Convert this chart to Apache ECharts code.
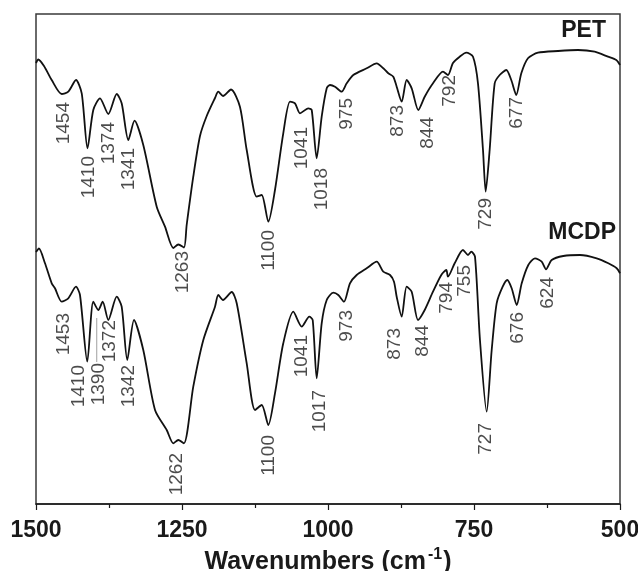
<!DOCTYPE html>
<html>
<head>
<meta charset="utf-8">
<script src="https://cdn.jsdelivr.net/npm/echarts@6/dist/echarts.min.js"></script>
<style>
  html, body { margin: 0; padding: 0; background: #fff; }
  #main { width: 638px; height: 571px; }
</style>
</head>
<body>
<div id="main"></div>
<script>
// wavenumber (cm-1) and transmittance (arbitrary units, curves offset)
var petWn = [1500, 1496.1, 1486.3, 1473.1, 1456.0, 1444.7, 1431.5, 1421.7, 1411.8, 1401.9, 1390.4, 1376.2, 1361.8, 1353.3, 1341.9, 1331.3, 1316.3, 1293.3, 1279.1, 1264.9, 1256.3, 1246.6, 1242.0, 1230.7, 1219.2, 1207.7, 1193.5, 1187.9, 1179.8, 1166.1, 1150.8, 1139.2, 1122.1, 1113.5, 1102.2, 1090.8, 1076.6, 1065.1, 1056.5, 1048.0, 1033.8, 1027.9, 1019.4, 1010.8, 1002.2, 996.6, 988.0, 976.6, 968.0, 956.7, 933.8, 916.6, 905.3, 896.8, 888.2, 882.4, 873.8, 865.3, 856.7, 845.4, 834.4, 820.2, 803.1, 794.6, 786.0, 774.5, 763.2, 751.7, 743.2, 734.6, 730.0, 723.2, 714.6, 706.0, 694.7, 686.2, 677.6, 669.0, 657.6, 640.4, 606.2, 572.0, 543.4, 520.6, 506.4, 500];
var petT = [441, 444.5, 438, 424, 410, 412.3, 424, 410.7, 355.7, 394, 405.7, 390, 410, 400.7, 364, 383.3, 359, 297.3, 277.3, 256, 259.5, 256.5, 279, 327.3, 368, 388, 406, 412.3, 408, 414.5, 397.3, 354, 307.3, 309, 282.3, 314, 370.7, 402.3, 400.7, 390.7, 395.7, 394, 345.7, 387.3, 415.7, 419, 417.3, 412.3, 420.7, 429, 435.7, 440.7, 435.7, 430.7, 427.3, 417.3, 402.3, 424, 415.7, 394, 407.3, 420.7, 432.3, 429, 441, 447.3, 451.3, 447.3, 420.7, 354, 312.3, 354, 420.7, 429, 434, 424, 409, 430.7, 445.7, 451.3, 453, 454, 452.3, 447.3, 444, 439];

var mcdpWn = [1500, 1494.9, 1484.6, 1473.1, 1467.5, 1456.0, 1444.7, 1431.5, 1424.7, 1412.2, 1401.9, 1393.3, 1385.8, 1376.2, 1361.8, 1353.3, 1343.7, 1332.2, 1316.3, 1296.2, 1276.2, 1264.9, 1256.3, 1246.6, 1230.7, 1213.5, 1193.5, 1187.9, 1179.8, 1164.9, 1156.3, 1139.2, 1125.0, 1113.5, 1102.2, 1090.8, 1076.6, 1059.4, 1045.0, 1032.0, 1026.2, 1019.4, 1010.8, 1002.2, 990.9, 982.4, 972.6, 962.4, 950.9, 933.8, 916.6, 905.3, 893.8, 887.0, 882.4, 873.8, 865.3, 856.7, 845.9, 834.4, 820.2, 806.0, 797.4, 794.6, 783.1, 768.9, 760.3, 754.7, 748.3, 739.8, 728.3, 719.7, 711.2, 700.9, 693.0, 685.5, 676.9, 668.3, 657.0, 645.6, 634.1, 626.7, 617.0, 597.1, 568.5, 539.9, 520.0, 505.7, 500];
var mcdpT = [252, 255.5, 240.7, 220.7, 215.7, 202.3, 205.7, 217.3, 209, 142.3, 202.3, 194, 202.3, 184, 207.3, 197.3, 144, 184, 154, 94, 74, 60.7, 64, 60.7, 117.3, 164, 197.3, 209, 204, 212, 200.7, 140.7, 94, 99, 79, 110.7, 160.7, 192.3, 177.3, 187.3, 184, 125.7, 180.7, 204, 211.3, 209, 202.3, 220.7, 229, 235.7, 242.3, 232.3, 229, 222.3, 207.3, 187.3, 217.3, 212.3, 184, 194, 212.3, 229, 234, 227.3, 240.7, 254, 249, 252.3, 247.3, 164, 92.3, 154, 200.7, 217.3, 224, 215.7, 199, 220.7, 239, 245.7, 242.3, 234.7, 244, 248, 249, 245.7, 240.7, 235.7, 230.7];

// peak annotations: text, anchor wavenumber, anchor height (top end of label)
var petPeakText = ['1454', '1410', '1374', '1341', '1263', '1100', '1041', '1018', '975', '873', '844', '792', '729', '677'];
var petPeakWn = [1453, 1410.5, 1376, 1342, 1248, 1102, 1045, 1011, 968, 880, 829, 792, 729, 676];
var petPeakT = [402, 348, 382, 356, 253, 274, 377, 336, 406, 399, 387, 429, 306, 407];

var mcdpPeakText = ['1453', '1410', '1390', '1372', '1342', '1262', '1100', '1041', '1017', '973', '873', '844', '794', '755', '727', '676', '624'];
var mcdpPeakWn = [1453, 1427, 1393, 1373, 1342, 1259, 1102, 1045, 1014, 968, 885, 837, 797, 766, 729, 675, 623];
var mcdpPeakT = [191, 139, 141, 184, 139, 51, 69, 169, 114, 194, 176, 179, 222, 239, 81, 192, 227];

// leader from the 1390 shoulder to its label
var leaderWn = [1396, 1396];
var leaderT = [186, 142];

var xTicks = [1500, 1250, 1000, 750, 500];

function pairs(xs, ys) {
  var out = [];
  for (var i = 0; i < xs.length; i++) out.push([xs[i], ys[i]]);
  return out;
}
function peaks(texts, xs, ys) {
  var out = [];
  for (var i = 0; i < texts.length; i++) out.push({ name: texts[i], value: [xs[i], ys[i]] });
  return out;
}

var font = '"Liberation Sans", Arial, sans-serif';
var peakLabel = {
  show: true,
  formatter: '{b}',
  position: 'inside',
  rotate: 90,
  align: 'right',
  verticalAlign: 'middle',
  fontSize: 19,
  fontFamily: font,
  color: '#1e1e1e'
};

var myChart = echarts.init(document.getElementById('main'));
myChart.setOption({
  animation: false,
  backgroundColor: '#fff',
  grid: {
    left: 36, right: 18, top: 14, bottom: 67,
    outerBoundsMode: 'none',
    containLabel: false,
    show: true, borderColor: '#3a3a3a', borderWidth: 1.5
  },
  xAxis: {
    type: 'value',
    min: 500, max: 1500, interval: 250,
    inverse: true,
    name: '{a|Wavenumbers (cm}{s|-1}{a|)}',
    nameLocation: 'middle',
    nameGap: 37,
    nameTextStyle: {
      rich: {
        a: { fontSize: 25, fontWeight: 'bold', fontFamily: font, color: '#1a1a1a', lineHeight: 30 },
        s: { fontSize: 16, fontWeight: 'bold', fontFamily: font, color: '#1a1a1a', verticalAlign: 'top', lineHeight: 30, padding: [0, 1, 0, 2] }
      }
    },
    axisLine: { show: true, lineStyle: { color: '#1a1a1a', width: 1.5 } },
    axisTick: { show: true, inside: false, length: 6, lineStyle: { color: '#1a1a1a', width: 1.2 } },
    minorTick: { show: true, splitNumber: 2, length: 4, lineStyle: { color: '#1a1a1a', width: 1.2 } },
    splitLine: { show: false },
    axisLabel: {
      margin: 15,
      fontSize: 23,
      fontWeight: 'bold',
      fontFamily: font,
      color: '#1a1a1a',
      formatter: function (v) { return xTicks.indexOf(v) >= 0 ? String(v) : ''; }
    }
  },
  yAxis: {
    type: 'value', min: 0, max: 490, show: false
  },
  graphic: [
    { type: 'text', right: 32, top: 19, style: { text: 'PET', font: 'bold 23px ' + font, fill: '#1a1a1a' } },
    { type: 'text', right: 22, top: 221, style: { text: 'MCDP', font: 'bold 23px ' + font, fill: '#1a1a1a' } }
  ],
  series: [
    {
      name: 'PET', type: 'line', data: pairs(petWn, petT),
      showSymbol: false, smooth: 0.25,
      lineStyle: { color: '#111', width: 1.8 }
    },
    {
      name: 'MCDP', type: 'line', data: pairs(mcdpWn, mcdpT),
      showSymbol: false, smooth: 0.25,
      lineStyle: { color: '#111', width: 1.8 }
    },
    {
      type: 'line', data: pairs(leaderWn, leaderT), showSymbol: false,
      lineStyle: { color: '#888', width: 0.8 }, silent: true
    },
    {
      type: 'scatter', data: peaks(petPeakText, petPeakWn, petPeakT),
      symbolSize: 0.01, silent: true, label: peakLabel
    },
    {
      type: 'scatter', data: peaks(mcdpPeakText, mcdpPeakWn, mcdpPeakT),
      symbolSize: 0.01, silent: true, label: peakLabel
    }
  ]
});
</script>
</body>
</html>
